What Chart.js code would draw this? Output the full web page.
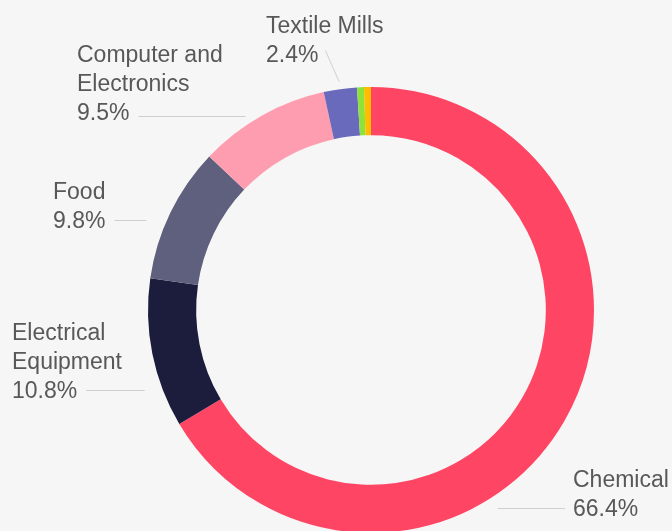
<!DOCTYPE html>
<html>
<head>
<meta charset="utf-8">
<script src="https://cdn.jsdelivr.net/npm/chart.js@4/dist/chart.umd.min.js"></script>
<style>
  html, body { margin: 0; padding: 0; background: #f6f6f6; overflow: hidden; }
  #wrap { position: absolute; left: 0; top: 0; width: 672px; height: 540px; }
</style>
</head>
<body>
<div id="wrap"><canvas id="chart-industry" width="672" height="540"></canvas></div>
<script>
// industry shares (%)
const labels = ['Chemical', 'Electrical Equipment', 'Food', 'Computer and Electronics', 'Textile Mills', 'Other A', 'Other B'];
const shares = [66.4, 10.8, 9.8, 9.5, 2.4, 0.5, 0.5];
const colors = ['#ff4564', '#1c1c3d', '#5f5f7e', '#ff9db0', '#6a6abc', '#8de33a', '#ffbd00'];
// how each label is broken into lines
const labelLines = [
  ['Chemical'],
  ['Electrical', 'Equipment'],
  ['Food'],
  ['Computer and', 'Electronics'],
  ['Textile Mills'],
  [],
  []
];

// label placement (left x of text, first baseline, connector y, extra radius)
const labelLayout = [
  { x: 573, y: 487, ly: 508, off: 12, side: 'right' },
  { x: 12, y: 340, ly: 390, off: 17, side: 'left' },
  { x: 53, y: 199, ly: 220, off: 19, side: 'left' },
  { x: 77, y: 62, ly: 116, off: 8, side: 'left' },
  { x: 266, y: 33, ly: 50, off: 8, side: 'mid' },
  null,
  null
];

const outsideLabels = {
  id: 'outsideLabels',
  afterDraw(chart) {
    const ctx = chart.ctx;
    const arcs = chart.getDatasetMeta(0).data;
    ctx.save();
    ctx.font = '23px "Liberation Sans", Arial, sans-serif';
    ctx.fillStyle = '#585858';
    ctx.textBaseline = 'alphabetic';
    ctx.textAlign = 'left';
    ctx.strokeStyle = '#cfcfcf';
    ctx.lineWidth = 1;
    labelLayout.forEach(function(pos, i) {
      if (!pos) return;
      const arc = arcs[i];
      const cx = arc.x, cy = arc.y;
      const r = arc.outerRadius + pos.off;
      const lines = labelLines[i].slice();
      lines.push(shares[i].toFixed(1) + '%');
      lines.forEach(function(t, k) {
        ctx.fillText(t, pos.x, pos.y + k * 29);
      });
      const lastW = ctx.measureText(lines[lines.length - 1]).width;
      let x0, y0 = pos.ly, x1, y1;
      if (pos.side === 'mid') {
        // point toward the slice middle
        const a = (arc.startAngle + arc.endAngle) / 2;
        x0 = pos.x + lastW + 7;
        x1 = cx + Math.cos(a) * r;
        y1 = cy + Math.sin(a) * r;
      } else {
        const dx = Math.sqrt(r * r - (pos.ly - cy) * (pos.ly - cy));
        y1 = pos.ly;
        if (pos.side === 'left') {
          x0 = pos.x + lastW + 9;
          x1 = cx - dx;
        } else {
          x0 = pos.x - 8;
          x1 = cx + dx;
        }
      }
      ctx.beginPath();
      ctx.moveTo(x0, y0 + 0.5);
      ctx.lineTo(x1, y1 + 0.5);
      ctx.stroke();
    });
    ctx.restore();
  }
};

var ctx = document.getElementById('chart-industry');
const industryChart = new Chart(ctx, {
  type: 'doughnut',
  data: {
    labels: labels,
    datasets: [
      {
        data: shares,
        backgroundColor: colors,
        borderWidth: 0,
        hoverOffset: 0
      }
    ]
  },
  options: {
    responsive: false,
    animation: false,
    cutout: '78.4%',
    layout: {
      padding: { top: 87, left: 148, right: 78, bottom: 7 }
    },
    plugins: {
      legend: { display: false },
      tooltip: { enabled: false }
    }
  },
  plugins: [outsideLabels]
});
</script>
</body>
</html>
